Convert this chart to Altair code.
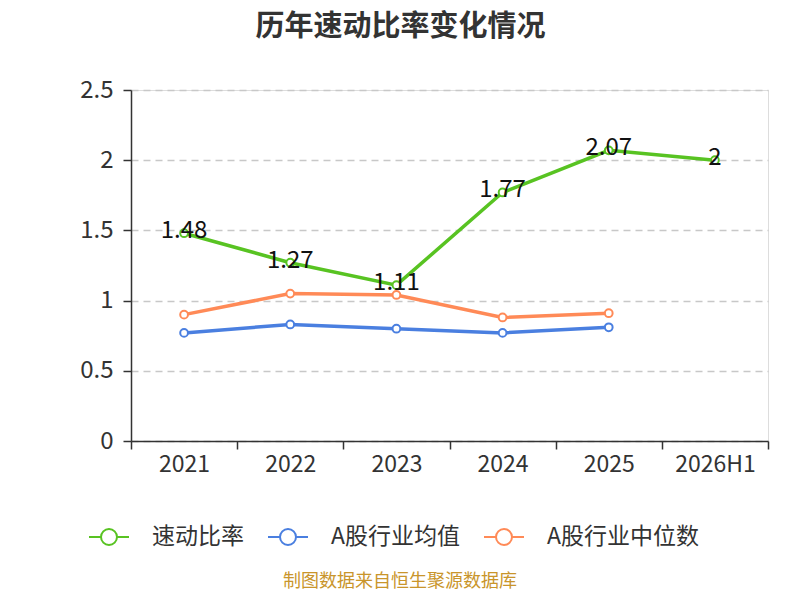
import altair as alt
import pandas as pd

years = ["2021", "2022", "2023", "2024", "2025", "2026H1"]
quick_ratio = [1.48, 1.27, 1.11, 1.77, 2.07, 2.00]
industry_avg = [0.77, 0.83, 0.80, 0.77, 0.81, None]
industry_median = [0.90, 1.05, 1.04, 0.88, 0.91, None]
series_names = ["速动比率", "A股行业均值", "A股行业中位数"]
series_colors = ["#58c322", "#4a7fe0", "#ff8a57"]
y_ticks = [0, 0.5, 1, 1.5, 2, 2.5]

rows = []
for name, vals in zip(series_names, [quick_ratio, industry_avg, industry_median]):
    for y, v in zip(years, vals):
        if v is not None:
            rows.append({"year": y, "series": name, "value": v})
df = pd.DataFrame(rows)

FONT = "Noto Sans CJK SC"
legend_path = ("M-1,0L-0.4,0M0.4,0L1,0M0.4,0A0.4,0.4,0,1,1,-0.4,0"
               "A0.4,0.4,0,1,1,0.4,0Z")

x_enc = alt.X("year:N", sort=years, title=None,
              scale=alt.Scale(type="band", paddingInner=0, paddingOuter=0),
              axis=alt.Axis(tickBand="extent", labelAngle=0, labelFontSize=23,
                            labelColor="#333333", labelPadding=4, tickSize=8,
                            tickColor="#333333", domainColor="#333333",
                            tickWidth=1.5, domainWidth=1.5, grid=False))
y_enc = alt.Y("value:Q", title=None,
              scale=alt.Scale(domain=[0, 2.5], nice=False),
              axis=alt.Axis(values=y_ticks, format="~g", labelFontSize=24,
                            labelColor="#333333", labelPadding=10, tickSize=8,
                            tickColor="#333333", domainColor="#333333",
                            tickWidth=1.5, domainWidth=1.5,
                            grid=True, gridColor="#c8c8c8", gridDash=[7, 5],
                            gridWidth=1.3))
stroke_enc = alt.Stroke("series:N",
                        scale=alt.Scale(domain=series_names, range=series_colors),
                        legend=alt.Legend(title=None, orient="none",
                                          legendX=-43, legendY=426,
                                          direction="horizontal",
                                          symbolType=legend_path, symbolSize=1600,
                                          symbolStrokeWidth=2,
                                          symbolFillColor="white",
                                          labelFontSize=23, labelColor="#333333",
                                          labelFont=FONT, labelOffset=22,
                                          columnPadding=20))

base = alt.Chart(df).encode(x=x_enc, y=y_enc, detail="series:N")

lines = base.mark_line(strokeWidth=3.5).encode(stroke=stroke_enc)
points = base.mark_point(shape="circle", size=60, strokeWidth=2, filled=True,
                         fill="white", fillOpacity=1).encode(
    stroke=alt.Stroke("series:N",
                      scale=alt.Scale(domain=series_names, range=series_colors),
                      legend=None))
labels = alt.Chart(df[df["series"] == series_names[0]]).mark_text(
    fontSize=24, color="#111111", font=FONT, baseline="middle", dy=-2
).encode(x=x_enc, y=y_enc, text=alt.Text("value:Q", format="~g"))

footer = alt.Chart(pd.DataFrame({"t": ["制图数据来自恒生聚源数据库"]})).mark_text(
    fontSize=18, color="#c9952b", font=FONT, baseline="middle", align="center"
).encode(text="t:N", x=alt.value(269), y=alt.value(492))

chart = alt.layer(lines, points, labels, footer).properties(
    width=637, height=351,
    autosize=alt.AutoSizeParams(type="none"),
    padding={"left": 123, "top": 82, "right": 24, "bottom": 151},
    title=alt.TitleParams("历年速动比率变化情况", fontSize=29, fontWeight="bold",
                          color="#333333", font=FONT, anchor="middle",
                          dx=-49, offset=22, baseline="middle"),
).configure_view(stroke=None).configure(font=FONT)

chart.save("out.html", embed_options={"renderer": "svg", "actions": False})
